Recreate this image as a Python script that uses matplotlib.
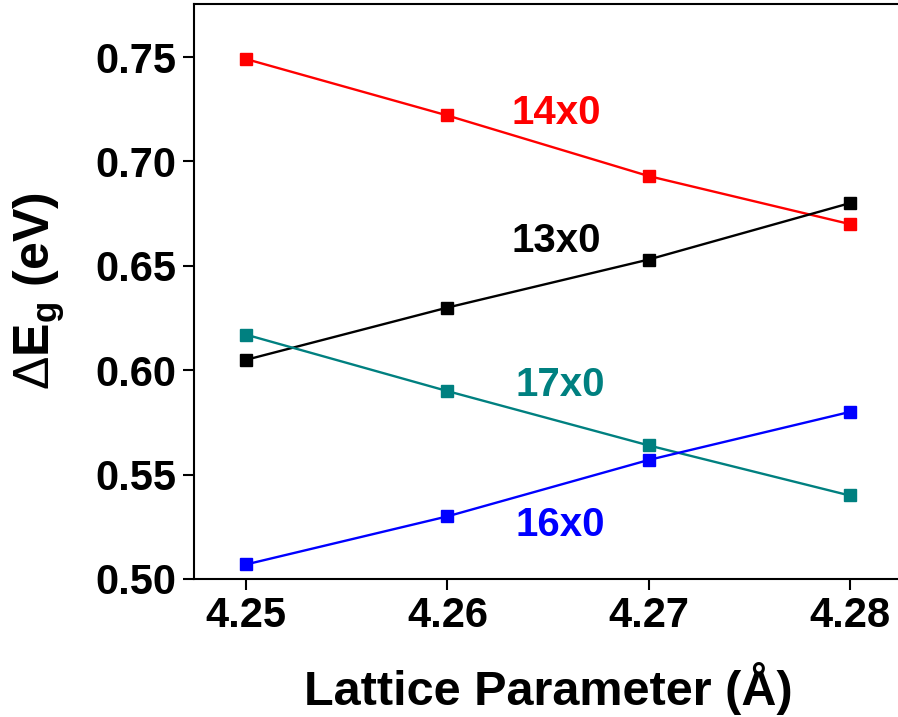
import matplotlib
matplotlib.use("Agg")
import matplotlib.pyplot as plt

plt.rcParams['font.family'] = ['Liberation Sans', 'DejaVu Sans']
plt.rcParams['font.weight'] = 'bold'
plt.rcParams['mathtext.fontset'] = 'custom'
plt.rcParams['mathtext.rm'] = 'Liberation Sans:bold'
plt.rcParams['mathtext.it'] = 'Liberation Sans:bold'
plt.rcParams['mathtext.bf'] = 'Liberation Sans:bold'
plt.rcParams['mathtext.sf'] = 'Liberation Sans:weight=normal'

lattice = [4.25, 4.26, 4.27, 4.28]
s14 = [0.749, 0.722, 0.693, 0.670]
s13 = [0.605, 0.630, 0.653, 0.680]
s17 = [0.617, 0.590, 0.564, 0.540]
s16 = [0.507, 0.530, 0.557, 0.580]
names = ["14x0", "13x0", "17x0", "16x0"]
colors = ["#ff0000", "#000000", "#008080", "#0000ff"]
label_pos = [(4.2654, 0.7232), (4.2654, 0.6619), (4.2656, 0.5929), (4.2656, 0.5259)]

fig = plt.figure(figsize=(8.98, 7.17), dpi=100)
ax = fig.add_axes([194/898, 1-579/717, (902-194)/898, (579-4)/717])

for ys, c in zip([s14, s13, s17, s16], colors):
    ax.plot(lattice, ys, color=c, lw=1.7, marker='s', markersize=8, clip_on=False)

for n, c, (x, y) in zip(names, colors, label_pos):
    ax.text(x, y, n, color=c, fontsize=29, fontweight='bold', ha='center', va='center')

ax.set_xlim(4.2474, 4.2826)
ax.set_ylim(0.50, 0.7754)
ax.set_xticks(lattice)
ax.set_xticklabels(["4.25", "4.26", "4.27", "4.28"])
ax.set_yticks([0.50, 0.55, 0.60, 0.65, 0.70, 0.75])
ax.set_yticklabels(["0.50", "0.55", "0.60", "0.65", "0.70", "0.75"])
ax.tick_params(axis='both', direction='out', length=8, width=1.5, labelsize=30)
ax.tick_params(axis='x', pad=4)
ax.tick_params(axis='y', pad=5)
for lab in ax.get_xticklabels() + ax.get_yticklabels():
    lab.set_fontweight('bold')
for sp in ax.spines.values():
    sp.set_linewidth(1.5)

ax.set_xlabel("Lattice Parameter (Å)", fontsize=35, fontweight='bold', labelpad=19)
ax.set_ylabel(r"$\mathsf{\Delta}$E$_\mathregular{g}$ (eV)", fontsize=36, fontweight='bold', labelpad=20)

fig.savefig("out.png", dpi=100)
